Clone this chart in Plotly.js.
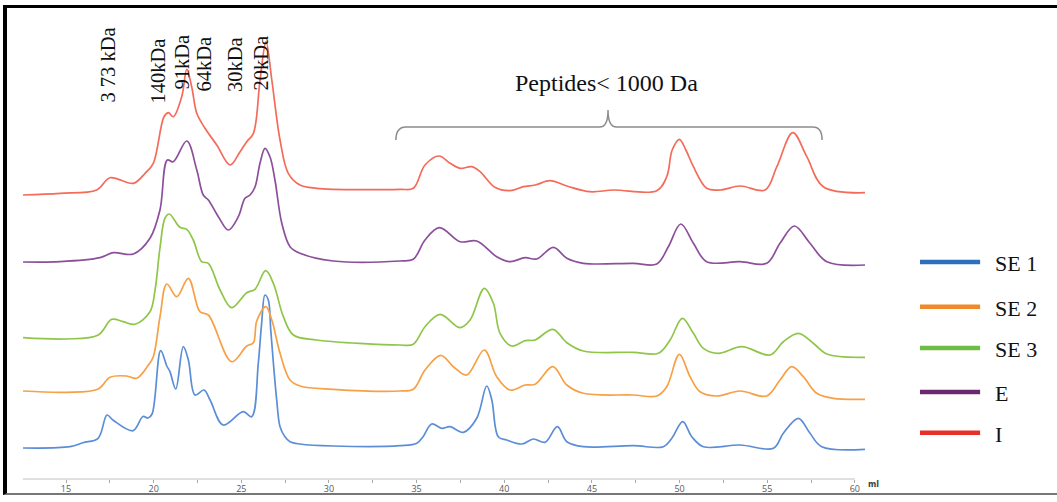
<!DOCTYPE html>
<html><head><meta charset="utf-8">
<script src="https://cdn.plot.ly/plotly-3.0.1.min.js"></script>
<style>
html,body{margin:0;padding:0;background:#fff;}
#chart{width:1057px;height:502px;position:absolute;left:0;top:0;}
#frame{position:absolute;left:3px;top:5px;width:1054px;height:490px;border-left:4px solid #000;border-top:3px solid #000;border-bottom:2px solid #777;box-sizing:border-box;pointer-events:none;}
</style></head><body>
<div id="chart"></div><div id="frame"></div>
<script>
// Elution volume (ml) and detector signal (arbitrary units) per sample
const seriesNames = ["SE 1", "SE 2", "SE 3", "E", "I"];
const offsets = [31, 88, 141, 217, 284];

const se1X = [12.55, 15.23, 15.97, 16.83, 17.34, 17.68, 18.82, 19.39, 19.68, 19.91, 20.40, 20.75, 20.93, 21.26, 21.69, 21.98, 22.36, 22.87, 23.22, 23.97, 25.11, 25.59, 25.97, 26.16, 26.35, 26.54, 26.68, 26.83, 27.02, 27.21, 27.49, 27.78, 28.35, 30.23, 34.05, 35.01, 35.37, 35.86, 36.43, 36.91, 37.67, 38.43, 39.00, 39.29, 39.66, 40.14, 41.00, 41.66, 42.33, 43.03, 43.57, 44.51, 47.36, 49.08, 49.56, 50.18, 50.70, 51.36, 53.45, 55.35, 55.92, 56.78, 57.44, 58.11, 60.58];
const se1Y = [0, 1.3, 5.3, 9.7, 33, 28, 17.3, 31.5, 30, 34, 97.3, 82, 76.3, 59, 101.3, 88, 53, 58, 48, 23, 36.3, 31.3, 85, 124.7, 153, 148, 118, 85, 48, 21.3, 11.3, 6.3, 4, 2, 2.3, 4.7, 11.3, 24, 19.7, 21.3, 15.7, 29.7, 62, 48, 11.3, 8, 4, 9, 5.7, 21.3, 6.3, 1.3, 2.3, 1.3, 9.7, 26.3, 11.3, 1.3, 3, -0.3, 14.7, 29.7, 14.7, 1.3, -1.3];

const se2X = [12.55, 15.04, 16.84, 17.51, 18.46, 19.03, 19.70, 19.98, 20.36, 20.75, 21.32, 21.98, 22.64, 23.12, 24.45, 25.31, 25.69, 25.88, 26.40, 26.74, 27.21, 27.78, 28.35, 30.25, 34.05, 34.81, 35.48, 36.38, 37.10, 37.86, 38.86, 39.57, 40.33, 41.19, 41.76, 42.77, 43.57, 44.51, 47.36, 48.70, 49.27, 49.99, 50.60, 51.17, 52.12, 53.45, 54.97, 55.73, 56.40, 57.06, 57.83, 58.77, 60.58];
const se2Y = [0, -1.3, 2, 13.7, 15, 12.7, 26, 34.3, 74, 107, 94.3, 112.7, 79.3, 76, 29.3, 45, 48.3, 70, 84.3, 71, 37.7, 11, 5, 1.7, 0, 1.7, 21, 35.7, 24.3, 16, 41, 14.3, 1, 6, 6.7, 24.3, 6, -2.3, -4, -5, 4.3, 36.7, 14.3, -0.7, -5, 0, -5, 11, 24.3, 14.3, -2.3, -7.3, -8.3];

const se3X = [12.55, 15.04, 16.84, 17.61, 18.27, 18.94, 19.79, 20.08, 20.36, 20.65, 20.89, 21.50, 21.89, 22.26, 22.74, 23.12, 23.79, 24.45, 25.31, 25.78, 26.39, 26.83, 27.40, 27.97, 29.30, 34.05, 34.81, 35.48, 36.34, 37.48, 38.05, 38.86, 39.38, 39.76, 40.43, 41.19, 41.76, 42.77, 43.57, 44.51, 47.36, 48.79, 49.46, 50.16, 50.79, 51.36, 52.21, 53.55, 55.16, 55.92, 56.78, 57.63, 58.40, 60.58];
const se3Y = [0.3, -1, 3, 18.7, 16.3, 13.7, 26.3, 48, 90, 120, 124, 110.7, 108.7, 98, 76.3, 74.7, 48, 30.3, 45.3, 48.7, 67.3, 54.7, 21.3, 3, -2, -7, -6.3, 11.3, 23.7, 10.3, 18, 49.7, 34.7, 4.7, -8, -2.7, -2, 8.7, -4.7, -13, -14.3, -15.3, -2, 19.7, 4.7, -10.3, -15.3, -8.7, -17, -3.7, 4.7, -5.3, -16, -19.3];

const eX = [12.55, 14.66, 16.94, 17.70, 18.84, 19.79, 20.36, 20.78, 21.12, 21.89, 22.46, 22.83, 23.12, 23.69, 24.26, 24.83, 25.21, 25.50, 25.78, 26.07, 26.35, 26.64, 26.92, 27.31, 27.78, 28.35, 30.25, 34.05, 34.81, 35.48, 36.30, 37.48, 38.43, 39.57, 40.33, 41.19, 41.85, 42.80, 43.57, 44.51, 47.36, 48.70, 49.36, 50.07, 50.79, 51.55, 53.45, 54.97, 55.73, 56.55, 57.44, 58.40, 60.58];
const eY = [0, 0.3, 4.3, 9.3, 8, 23.7, 52, 102, 100.3, 121, 92, 67, 62, 45.3, 32, 45.3, 63.7, 67, 75, 99, 113.7, 105, 82, 38.7, 15.3, 8.7, 1, 1, 2.7, 22, 34.3, 20.3, 21, 5.3, 0.3, 4.3, 3, 14.7, 3.7, -1.3, -1.3, -2, 15.3, 38, 18.7, 0.3, 0.3, -1.3, 18.7, 36, 18.7, 0.3, -3];

const iX = [12.55, 14.66, 16.75, 17.51, 18.84, 19.51, 19.98, 20.59, 20.84, 21.12, 21.60, 21.89, 22.17, 22.46, 22.93, 23.60, 24.36, 24.93, 25.31, 25.69, 26.07, 26.41, 26.74, 27.21, 27.68, 28.35, 29.30, 34.05, 34.81, 35.48, 36.28, 36.91, 37.48, 38.15, 38.62, 39.47, 40.33, 41.09, 41.76, 42.61, 43.57, 44.89, 46.22, 48.70, 49.27, 49.58, 49.99, 50.36, 50.79, 51.55, 52.31, 53.45, 54.88, 55.55, 56.46, 57.26, 58.20, 60.58];
const iY = [0, 1.7, 5, 17.3, 11.7, 21.7, 31.7, 78.3, 82.3, 78.3, 98.3, 125.7, 108.3, 81.7, 66.7, 50, 30, 43.3, 53.3, 61.7, 115, 153.3, 115, 55, 21.7, 10, 6.7, 5.7, 6.7, 30, 39, 31.7, 26.7, 28.3, 23.3, 7.7, 4.3, 8.3, 10, 14.3, 9, 3.3, 5, 4.3, 18.3, 45, 55.7, 45, 28.3, 6.7, 5, 9, 5, 28.3, 62.3, 38.3, 8.3, 2.3];

const massLabels = ["3 73 kDa", "140kDa", "91kDa", "64kDa", "30kDa", "20kDa"];
const massLabelX = [17.34, 20.22, 21.56, 22.87, 24.64, 26.12];
const peptideLabel = "Peptides< 1000 Da";
const xTickUnit = "ml";

// styles
const curveColors = ["#5b8ed6", "#f7a046", "#8fc64a", "#8c4f9b", "#f46b59"];
const legendColors = ["#2e6fbd", "#f0892a", "#6fbe44", "#6a2870", "#e8302a"];
const massLabelY = [413.5, 408, 416.5, 415.5, 415, 416.5];

const xs = [se1X, se2X, se3X, eX, iX];
const ys = [se1Y, se2Y, se3Y, eY, iY];

const traces = xs.map((x, k) => ({
  type: 'scatter', mode: 'lines', name: seriesNames[k],
  x: x, y: ys[k].map(v => v + offsets[k]),
  line: {color: curveColors[k], width: 1.7, shape: 'spline', smoothing: 1},
  hoverinfo: 'skip'
}));

const serif = 'Liberation Serif, Times New Roman, serif';
const annotations = massLabels.map((t, k) => ({
  text: t, x: massLabelX[k], y: massLabelY[k], xref: 'x', yref: 'y',
  textangle: -90, showarrow: false, xanchor: 'center', yanchor: 'middle',
  font: {family: serif, size: 20.5, color: '#111'}
}));
annotations.push({text: peptideLabel, x: 45.86, y: 396, xref: 'x', yref: 'y', showarrow: false,
  xanchor: 'center', yanchor: 'middle', font: {family: serif, size: 24, color: '#111'}});
annotations.push({text: '<b>' + xTickUnit + '</b>', x: 1.0047, y: -0.011, xref: 'paper', yref: 'paper',
  showarrow: false, xanchor: 'center', yanchor: 'middle', font: {family: 'DejaVu Sans', size: 8, color: '#444'}});

const legY = [0.4728, 0.3754, 0.2854, 0.1895, 0.1009];
const shapes = [
  {type: 'line', xref: 'x', yref: 'paper', x0: 12.547, x1: 60, y0: 0, y1: 0, line: {color: '#c0c0c0', width: 1}},
  {type: 'path', xref: 'x', yref: 'y',
   path: 'M 33.82 339 Q 33.82 352 34.4 352 L 45.45 352 Q 45.92 352 45.92 369 Q 45.92 352 46.4 352 L 57.6 352 Q 58.13 352 58.13 339',
   line: {color: '#8c8c8c', width: 1.5}}
];
seriesNames.forEach((n, k) => {
  shapes.push({type: 'line', xref: 'paper', yref: 'paper', x0: 1.059, x1: 1.130, y0: legY[k], y1: legY[k],
    line: {color: legendColors[k], width: 4.5}});
  annotations.push({text: n, x: 1.1452, y: legY[k] - 0.004, xref: 'paper', yref: 'paper', showarrow: false,
    xanchor: 'left', yanchor: 'middle', font: {family: serif, size: 22, color: '#111'}});
});

const layout = {
  width: 1057, height: 502,
  margin: {l: 23, r: 187, t: 20, b: 23, pad: 0},
  paper_bgcolor: '#fff', plot_bgcolor: '#fff',
  showlegend: false,
  xaxis: {range: [12.547, 60.864], showline: false, zeroline: false, showgrid: false,
    tickmode: 'linear', tick0: 0, dtick: 5, ticks: 'outside', ticklen: 3, tickcolor: '#a8a8a8',
    ticklabelstandoff: -2,
    tickfont: {family: 'Open Sans, DejaVu Sans', size: 9, color: '#595959'},
    minor: {tick0: 0, dtick: 2.5, ticks: 'outside', ticklen: 3, tickcolor: '#a8a8a8', showgrid: false},
    fixedrange: true},
  yaxis: {range: [0, 459], visible: false, fixedrange: true},
  shapes: shapes,
  annotations: annotations
};

Plotly.newPlot('chart', traces, layout, {staticPlot: true, displayModeBar: false});
</script>
</body></html>
